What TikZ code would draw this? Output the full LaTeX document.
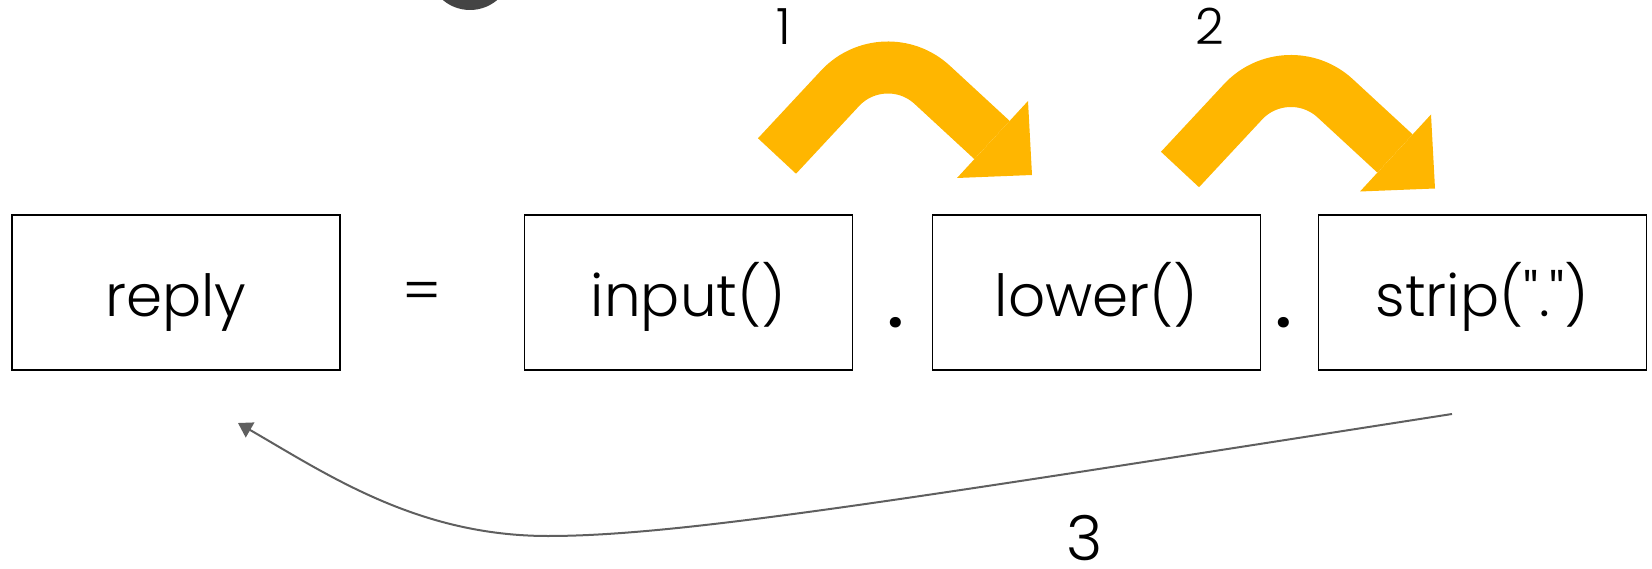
\documentclass[tikz,border=0pt]{standalone}
\usepackage{fontspec}
\usetikzlibrary{arrows.meta}
\setmainfont{Poppins}[UprightFont={* Light},Ligatures=TeXOff]
\newfontfamily\heavyfont{Poppins}[UprightFont={* SemiBold},Ligatures=TeXOff]
\definecolor{amber}{RGB}{255,182,0}
\definecolor{linegray}{RGB}{95,95,95}
\definecolor{blobgray}{RGB}{68,68,68}
\begin{document}
\begin{tikzpicture}[x=1pt,y=-1pt,
  term/.style={draw=black,line width=1.5pt,minimum width=328pt,minimum height=155pt,
    inner sep=0pt,font=\fontsize{58}{70}\selectfont,text height=57pt,text depth=8pt},
  sym/.style={inner sep=0pt,anchor=base,font=\fontsize{58}{70}\selectfont},
  dotsym/.style={inner sep=0pt,anchor=base,font=\heavyfont\fontsize{64}{70}\selectfont},
  steplabel/.style={inner sep=0pt,anchor=base,text depth=0pt,font=\fontsize{50}{60}\selectfont},
  hookarrow/.style={amber,line width=52pt,rounded corners=65pt},
  back/.style={linegray,line width=2pt,-{Triangle[length=14pt,width=17pt]}}]
\useasboundingbox (0,0) rectangle (1652,569);

% partly visible round mark at the top edge
\fill[blobgray] (470,-32) circle[radius=42];

% the chained expression
\node[term] (reply) at (176,292.5) {reply};
\node[sym] (eq) at (422,312) {=};
\node[term] (inp) at (688.5,292.5) {input()};
\node[dotsym] (dot1) at (896,327) {.};
\node[term] (low) at (1096.5,292.5) {lower()};
\node[dotsym] (dot2) at (1284,327) {.};
\node[term] (strip) at (1482.5,292.5) {strip(".")};

% step 1: input() -> lower()
\coordinate (a1s) at (777,156);
\coordinate (a1t) at (884.4,40.7);
\coordinate (a1e) at (992,140);
\draw[hookarrow] (a1s) -- (a1t) -- (a1e);
\fill[amber] (1028,101) -- (1032,175) -- (957,178) -- cycle;
\node[steplabel] (n1) at (784,45) {1};

% step 2: lower() -> strip(".")
\begin{scope}[shift={(403,13.5)}]
  \coordinate (a2s) at (777,156);
  \coordinate (a2t) at (884.4,40.7);
  \coordinate (a2e) at (992,140);
  \draw[hookarrow] (a2s) -- (a2t) -- (a2e);
  \fill[amber] (1028,101) -- (1032,175) -- (957,178) -- cycle;
\end{scope}
\node[steplabel] (n2) at (1210,45) {2};

% step 3: result assigned back to reply
\coordinate (r0) at (1452,414);
\coordinate (rlow) at (548,536);
\coordinate (r1) at (238,423);
\draw[back] (r0) .. controls (900,500) and (680,536) .. (rlow)
  .. controls (418,536) and (328,475) .. (r1);
\node[steplabel,font=\fontsize{62}{74}\selectfont] (n3) at (1085,560) {3};
\end{tikzpicture}
\end{document}
